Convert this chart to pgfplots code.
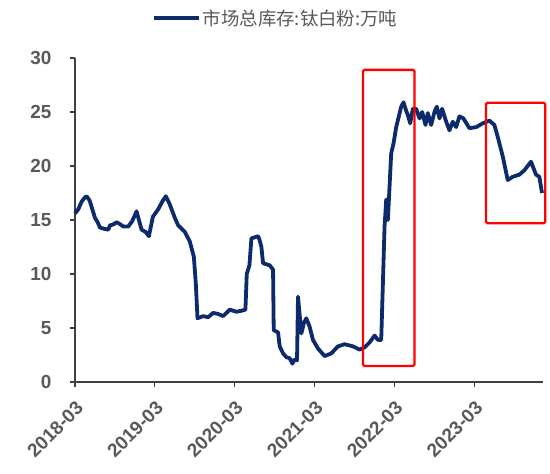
\documentclass[border=0pt]{standalone}
\usepackage{pgfplots}
\pgfplotsset{compat=1.18}
\usepackage{fontspec}
\setmainfont{Liberation Sans}
\newfontfamily\cjk{Noto Sans CJK SC}
\definecolor{navy}{HTML}{0D2A6C}
\definecolor{txtgray}{HTML}{595959}
\definecolor{axgray}{HTML}{404040}

\begin{document}
\begin{tikzpicture}
\useasboundingbox (-75bp,-92bp) rectangle (475bp,382bp);
\begin{axis}[
  scale only axis,
  width=468bp, height=324bp,
  xmin=0, xmax=70.3, ymin=0, ymax=30,
  axis x line=bottom, axis y line=left,
  axis line style={axgray, line width=1.4bp, -},
  tick style={axgray, line width=1.2bp},
  tick align=outside, major tick length=5bp,
  xtick={0,12,24,36,48,60},
  xticklabels={2018-03,2019-03,2020-03,2021-03,2022-03,2023-03},
  ytick={0,5,10,15,20,25,30},
  /pgf/number format/assume math mode=true,
  xticklabel shift=8bp,
  yticklabel shift=15bp,
  x tick label style={rotate=45, anchor=north east, text=txtgray,
    font=\bfseries\fontsize{19}{19}\selectfont},
  y tick label style={text=txtgray, font=\bfseries\fontsize{19}{19}\selectfont},
  legend style={at={(0.428,1.123)}, anchor=center, draw=none, fill=none,
    font=\cjk\fontsize{18.5}{18.5}\selectfont, text=txtgray},
  legend image code/.code={\draw[#1, line width=4.5bp] (0bp,0bp) -- (45bp,0bp);},
  clip=false,
]
\addplot[navy, line width=3.8bp, line join=round] coordinates {
(0,15.6) (0.5,16.0) (1.0,16.7) (1.5,17.1) (1.75,17.2) (2.2,16.8) (2.6,16.0)
(3.0,15.2) (3.4,14.8) (3.75,14.3) (4.3,14.2) (5.0,14.1) (5.25,14.5) (5.8,14.6)
(6.25,14.8) (6.8,14.6) (7.25,14.4) (8.0,14.4) (8.6,14.9) (9.25,15.8) (9.6,15.0)
(10.0,14.1) (10.6,13.9) (11.1,13.5) (11.7,15.3) (12.5,16.0) (13.2,16.8) (13.65,17.2)
(14.2,16.5) (15.0,15.2) (15.5,14.5) (16.5,13.9) (17.25,13.0) (17.85,11.6) (18.15,9.1)
(18.4,5.9) (19.25,6.1) (20.0,6.0) (20.75,6.4) (21.5,6.3) (22.25,6.1) (23.25,6.7)
(24.25,6.5) (25.0,6.6) (25.6,6.7) (25.8,10.0) (26.2,10.8) (26.5,13.3) (27.5,13.5)
(27.7,13.2) (28.0,12.5) (28.25,11.0) (29.25,10.8) (29.75,10.4) (29.85,4.8) (30.5,4.6)
(30.75,3.3) (31.25,2.65) (31.75,2.3) (32.25,2.2) (32.65,1.7) (33.0,2.1) (33.35,2.0)
(33.5,7.9) (34.0,4.5) (34.4,5.5) (34.75,5.9) (35.25,5.1) (35.75,3.9) (36.5,3.1)
(37.5,2.4) (38.5,2.65) (39.5,3.3) (40.5,3.5) (41.75,3.3) (42.75,3.0) (43.5,3.2)
(44.3,3.7) (45.0,4.3) (45.5,3.9) (46.0,3.9) (46.5,14.4) (46.75,16.9) (47.0,15.0)
(47.5,21.2) (47.85,22.1) (48.25,23.6) (49.0,25.5) (49.35,25.9) (49.7,25.2) (50.0,24.7)
(50.35,23.95) (50.75,25.3) (51.25,25.3) (51.75,24.4) (52.15,25.0) (52.65,23.8) (53.0,24.9)
(53.5,23.8) (54.0,25.0) (54.35,25.5) (54.75,24.4) (55.15,25.3) (55.65,24.3) (56.25,23.3)
(56.75,24.1) (57.25,23.6) (57.75,24.6) (58.35,24.4) (59.25,23.5) (60.25,23.6) (61.25,23.95)
(62.25,24.2) (63.0,23.8) (63.5,22.7) (64.25,20.9) (65.0,18.7) (65.75,19.0) (66.75,19.2)
(67.5,19.6) (68.5,20.4) (69.25,19.2) (69.75,19.0) (70.15,17.5)
};
\addlegendentry{市场总库存:钛白粉:万吨}
\draw[red, line width=2.3bp, rounded corners=1.5bp] (axis cs:43.25,1.48) rectangle (axis cs:51.0,28.9);
\draw[red, line width=2.3bp, rounded corners=1.5bp] (axis cs:61.75,14.7) rectangle (axis cs:70.65,25.86);
\end{axis}
\end{tikzpicture}
\end{document}
